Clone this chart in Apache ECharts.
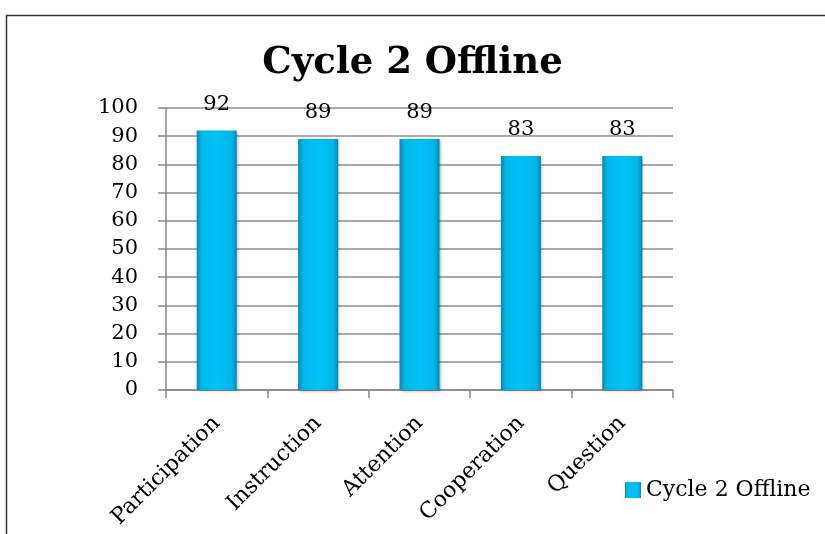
<!DOCTYPE html>
<html>
<head>
<meta charset="utf-8">
<style>
  html, body { margin: 0; padding: 0; background: #fff; }
  #chart { width: 825px; height: 534px; }
</style>
<script src="https://cdn.jsdelivr.net/npm/echarts@6/dist/echarts.min.js"></script>
</head>
<body>
<div id="chart"></div>
<script>
const categories = ["Participation", "Instruction", "Attention", "Cooperation", "Question"];
const values = [92, 89, 89, 83, 83];
const seriesName = "Cycle 2 Offline";
const titleText = "Cycle 2 Offline";

const serif = "DejaVu Serif, Liberation Serif, serif";

const chart = echarts.init(document.getElementById("chart"));

// bevelled bar fill
const barFill = new echarts.graphic.LinearGradient(0, 0, 1, 0, [
  { offset: 0, color: "#0a86b3" },
  { offset: 0.12, color: "#00b6ea" },
  { offset: 0.5, color: "#00c2f5" },
  { offset: 0.88, color: "#00b6ea" },
  { offset: 1, color: "#0a86b3" },
]);

chart.setOption({
  animation: false,
  title: {
    text: titleText,
    left: "center",
    top: 40,
    textStyle: {
      fontFamily: serif,
      fontWeight: "bold",
      fontSize: 37,
      color: "#000",
    },
  },
  graphic: [
    {
      type: "rect",
      shape: { x: 6.5, y: 15.5, width: 900, height: 600 },
      style: { fill: "none", stroke: "#333", lineWidth: 1.5 },
      silent: true,
    },
  ],
  legend: {
    left: 620,
    top: 474,
    itemWidth: 16,
    itemHeight: 16,
    itemGap: 6,
    icon: "rect",
    textStyle: { fontFamily: serif, fontSize: 22, color: "#000" },
    data: [seriesName],
  },
  grid: {
    left: 166,
    right: 152,
    top: 108,
    bottom: 144,
    containLabel: false,
  },
  xAxis: {
    type: "category",
    data: categories,
    axisLine: { lineStyle: { color: "#888", width: 1.5 } },
    axisTick: { show: true, alignWithLabel: false, length: 8, lineStyle: { color: "#888", width: 1.5 } },
    axisLabel: {
      rotate: 45,
      interval: 0,
      margin: 30,
      fontFamily: serif,
      fontSize: 22,
      color: "#000",
    },
  },
  yAxis: {
    type: "value",
    min: 0,
    max: 100,
    interval: 10,
    axisLine: { show: true, lineStyle: { color: "#888", width: 1.5 } },
    axisTick: { show: true, length: 8, lineStyle: { color: "#888", width: 1.5 } },
    axisLabel: {
      margin: 28,
      fontFamily: serif,
      fontSize: 21,
      color: "#000",
    },
    splitLine: { show: true, lineStyle: { color: "#8c8c8c", width: 1.5 } },
  },
  series: [
    {
      type: "bar",
      name: seriesName,
      data: values,
      barWidth: 40,
      itemStyle: {
        color: barFill,
        shadowColor: "rgba(0,0,0,0.35)",
        shadowBlur: 3,
        shadowOffsetX: 1,
        shadowOffsetY: 1,
      },
      label: {
        show: true,
        position: "top",
        distance: 16,
        fontFamily: serif,
        fontSize: 21,
        color: "#000",
      },
    },
  ],
  color: ["#00bdf2"],
});
</script>
</body>
</html>
